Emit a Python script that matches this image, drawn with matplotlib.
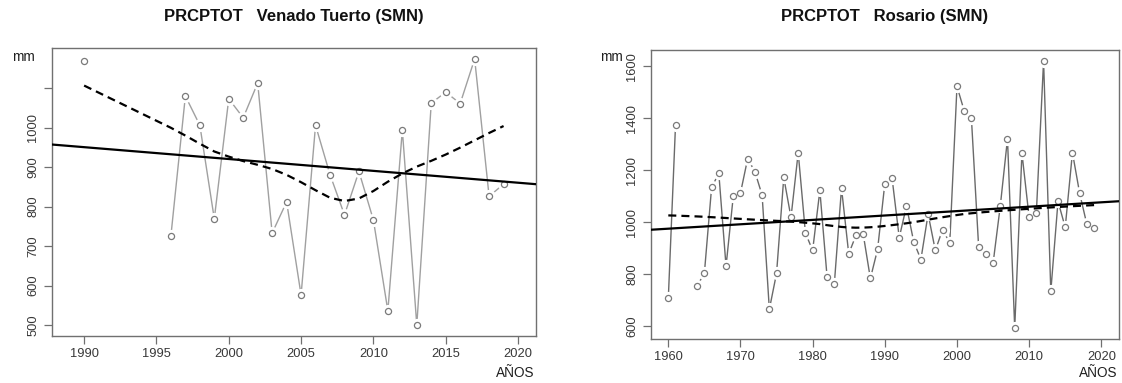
import numpy as np
import matplotlib
matplotlib.use("Agg")
import matplotlib.pyplot as plt

plt.rcParams["font.family"] = ["Liberation Sans", "DejaVu Sans"]

nan = np.nan

# Annual total precipitation (PRCPTOT, mm)
vt_years = np.arange(1990, 2020)
vt_prcptot = [1169, nan, nan, nan, nan, nan,
              726, 1080, 1006, 769, 1073, 1025, 1113, 733, 812, 576,
              1006, 881, 779, 889, 766, 536, 994, 500, 1062, 1090,
              1061, 1174, 826, 857]

ro_years = np.arange(1960, 2020)
ro_prcptot = [706, 1374, nan, nan, 754, 804, 1134, 1188, 830, 1099,
              1112, 1245, 1194, 1104, 664, 803, 1172, 1018, 1268, 958,
              891, 1122, 789, 760, 1131, 878, 949, 955, 783, 895,
              1148, 1171, 940, 1062, 925, 856, 1031, 891, 971, 920,
              1523, 1429, 1400, 905, 876, 841, 1062, 1321, 591, 1266,
              1018, 1036, 1622, 733, 1080, 980, 1268, 1111, 991, 977]

vt_title = "PRCPTOT   Venado Tuerto (SMN)"
ro_title = "PRCPTOT   Rosario (SMN)"
vt_xrange = (1989, 2020)
ro_xrange = (1960, 2020)
vt_xticks = np.arange(1990, 2021, 5)
ro_xticks = np.arange(1960, 2021, 10)
vt_yticks = np.arange(500, 1101, 100)
vt_ylabels = ["500", "600", "700", "800", "900", "1000", ""]
ro_yticks = np.arange(600, 1601, 200)
ro_ylabels = ["600", "800", "1000", "1200", "1400", "1600"]


def lowess(x, y, f=2 / 3, iters=3):
    """Locally weighted scatterplot smoothing (Cleveland), as in R's lowess()."""
    x = np.asarray(x, float)
    y = np.asarray(y, float)
    n = len(x)
    ns = max(2, min(n, int(f * n + 1e-7)))
    rng = x.max() - x.min()
    rw = np.ones(n)
    fit = np.zeros(n)
    for it in range(iters + 1):
        for i in range(n):
            d = np.abs(x - x[i])
            h = np.sort(d)[ns - 1]
            r = d / h
            w = np.where(r <= 0.001, 1.0, np.where(r <= 0.999, (1 - r ** 3) ** 3, 0.0)) * rw
            sw = w.sum()
            a = (w * x).sum() / sw
            c = (w * (x - a) ** 2).sum() / sw
            ys = (w * y).sum() / sw
            if np.sqrt(c) > 0.001 * rng:
                b = (w * (x - a) * y).sum() / sw / c
                ys = ys + b * (x[i] - a)
            fit[i] = ys
        if it == iters:
            break
        res = y - fit
        cmad = 6 * np.median(np.abs(res))
        r = np.abs(res) / cmad
        rw = np.where(r < 0.001, 1.0, np.where(r <= 0.999, (1 - r ** 2) ** 2, 0.0))
    return fit


fig = plt.figure(figsize=(11.22, 3.83), dpi=100)
ax1 = fig.add_axes([0.0461, 0.1235, 0.4316, 0.7504])
ax2 = fig.add_axes([0.5802, 0.1149, 0.4168, 0.7546])


def draw(ax, years, vals, title, xrange_, xticks, yticks, ylabels,
         line_color, mk_color):
    years = np.asarray(years, float)
    vals = np.asarray(vals, float)
    ok = ~np.isnan(vals)

    # series drawn as points joined by lines that stop short of each point
    ax.plot(years, vals, color=line_color, lw=1.0, zorder=1)
    ax.plot(years[ok], vals[ok], ls="none", marker="o", ms=9.5,
            mfc="white", mec="none", zorder=2)
    ax.plot(years[ok], vals[ok], ls="none", marker="o", ms=4.4,
            mfc="white", mec=mk_color, mew=0.9, zorder=3)

    # axis ranges padded by 4 %
    span = xrange_[1] - xrange_[0]
    xlim = (xrange_[0] - 0.04 * span, xrange_[1] + 0.04 * span)
    lo, hi = np.nanmin(vals), np.nanmax(vals)
    ylim = (lo - 0.04 * (hi - lo), hi + 0.04 * (hi - lo))
    ax.set_xlim(xlim)
    ax.set_ylim(ylim)

    # least-squares trend across the full plot width
    slope, icpt = np.polyfit(years[ok], vals[ok], 1)
    xl = np.array(xlim)
    ax.plot(xl, icpt + slope * xl, color="black", lw=1.6, zorder=4)

    # lowess smooth
    sm = lowess(years[ok], vals[ok])
    ax.plot(years[ok], sm, color="black", lw=1.6, dashes=(3.6, 2.3), zorder=4)

    ax.set_xticks(xticks)
    ax.set_yticks(yticks)
    ax.set_yticklabels(ylabels)
    for s in ax.spines.values():
        s.set_color("#707070")
        s.set_linewidth(1.0)
    ax.tick_params(axis="both", direction="out", length=6, width=0.9,
                   color="#707070", labelcolor="#383838", labelsize=9.3, pad=3)
    ax.tick_params(axis="y", labelrotation=90)
    for lab in ax.get_yticklabels():
        lab.set_va("center")

    bb = ax.get_position()
    cx = (bb.x0 + bb.x1) / 2
    fig.text(cx, 1 - 16 / 383, title, ha="center", va="center",
             fontsize=12, fontweight="bold", color="#111111")
    fig.text(bb.x1 - 0.001, 1 - 373 / 383, "AÑOS", ha="right", va="center",
             fontsize=9.8, color="#202020")


draw(ax1, vt_years, vt_prcptot, vt_title, vt_xrange, vt_xticks,
     vt_yticks, vt_ylabels, "#a0a0a0", "#7a7a7a")
draw(ax2, ro_years, ro_prcptot, ro_title, ro_xrange, ro_xticks,
     ro_yticks, ro_ylabels, "#6a6a6a", "#7a7a7a")

fig.text(12 / 1122, 1 - 57 / 383, "mm", ha="left", va="center",
         fontsize=9.8, color="#202020")
fig.text(600 / 1122, 1 - 57 / 383, "mm", ha="left", va="center",
         fontsize=9.8, color="#202020")

fig.savefig("out.png", dpi=100, facecolor="white")
